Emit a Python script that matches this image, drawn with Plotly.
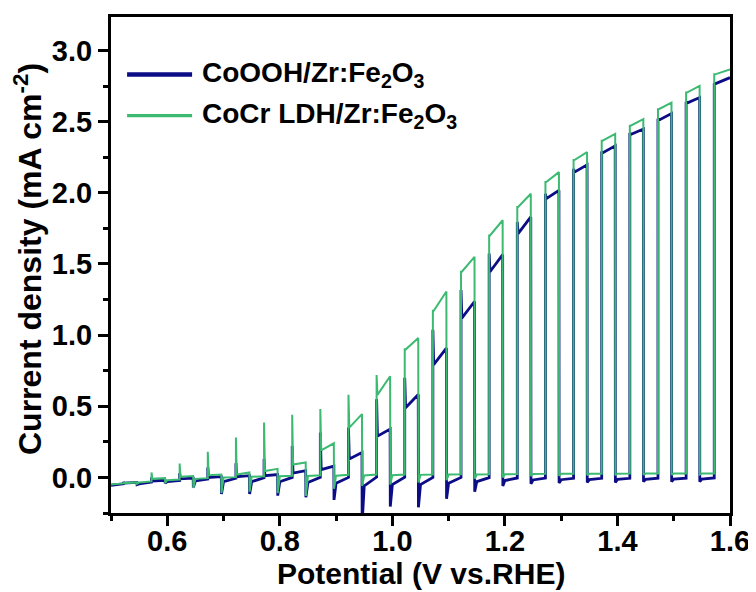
import plotly.graph_objects as go

# ---------------- data ----------------
x_start = 0.5
x_end = 1.6
blue_start = -0.055
green_start = -0.05

# light-on / light-off potentials (V vs. RHE)
x_on = [0.522, 0.572, 0.622, 0.672, 0.722, 0.772, 0.822, 0.872, 0.922, 0.972, 1.022,
        1.072, 1.122, 1.172, 1.222, 1.272, 1.322, 1.372, 1.422, 1.472, 1.522, 1.572]
x_off = [0.546, 0.596, 0.646, 0.696, 0.746, 0.796, 0.846, 0.896, 0.946, 0.996, 1.046,
         1.096, 1.146, 1.196, 1.246, 1.296, 1.346, 1.396, 1.446, 1.496, 1.546, 1.6]

# CoOOH/Zr:Fe2O3 (navy)
blue_dark = [-0.045, -0.033, -0.022, -0.012, -0.006, -0.002, 0.0, 0.0, 0.0, 0.002, 0.002,
             0.0, 0.0, -0.002, -0.004, -0.005, -0.006, -0.006, -0.006, -0.006, -0.005, -0.004]
blue_spike = [-0.032, 0.0, 0.03, 0.07, 0.10, 0.13, 0.22, 0.315, 0.35, 0.55, 0.70,
              1.038, 1.317, 1.573, 1.795, 1.993, 2.168, 2.29, 2.42, 2.52, 2.64, 2.77]
blue_dip = [-0.04, -0.025, -0.01, 0.0, 0.005, 0.012, 0.03, 0.055, 0.13, 0.29, 0.49,
            0.793, 1.119, 1.445, 1.713, 1.958, 2.145, 2.28, 2.41, 2.51, 2.63, 2.765]
blue_end = [-0.035, -0.02, -0.005, 0.005, 0.012, 0.02, 0.047, 0.08, 0.175, 0.34, 0.583,
            0.909, 1.236, 1.565, 1.83, 2.017, 2.196, 2.33, 2.448, 2.557, 2.669, 2.809]
blue_neg = [-0.05, -0.04, -0.07, -0.116, -0.116, -0.128, -0.14, -0.158, -0.32, -0.205, -0.21,
            -0.15, -0.10, -0.06, -0.045, -0.04, -0.035, -0.035, -0.03, -0.03, -0.03]
blue_tail = [-0.045, -0.03, -0.025, -0.03, -0.03, -0.03, -0.035, -0.04, -0.06, -0.05, -0.05,
             -0.04, -0.03, -0.022, -0.018, -0.016, -0.015, -0.014, -0.013, -0.012, -0.012]

# CoCr LDH/Zr:Fe2O3 (green)
green_dark = [-0.042, -0.028, -0.015, -0.005, 0.002, 0.008, 0.012, 0.015, 0.018, 0.02, 0.02,
              0.02, 0.022, 0.022, 0.024, 0.025, 0.025, 0.026, 0.027, 0.028, 0.028, 0.028]
green_spike = [-0.03, 0.035, 0.098, 0.18, 0.28, 0.385, 0.44, 0.48, 0.58, 0.72, 0.90,
               1.171, 1.445, 1.70, 1.90, 2.075, 2.23, 2.366, 2.471, 2.587, 2.704, 2.832]
green_dip = [-0.04, -0.01, 0.005, 0.015, 0.02, 0.045, 0.09, 0.19, 0.35, 0.58, 0.898,
             1.171, 1.445, 1.70, 1.90, 2.075, 2.23, 2.366, 2.471, 2.587, 2.704, 2.832]
green_end = [-0.035, -0.005, 0.01, 0.02, 0.035, 0.06, 0.105, 0.24, 0.445, 0.711, 0.979,
             1.306, 1.55, 1.807, 1.993, 2.145, 2.285, 2.413, 2.517, 2.634, 2.751, 2.867]
green_neg = [-0.045, -0.04, -0.075, -0.11, -0.10, -0.11, -0.13, -0.08, -0.06, -0.05, -0.035,
             -0.02, -0.01, 0.0, 0.01, 0.012, 0.015, 0.015, 0.018, 0.018, 0.02]
green_tail = [-0.035, -0.02, -0.01, 0.0, 0.005, 0.008, 0.01, 0.012, 0.014, 0.016, 0.018,
              0.02, 0.02, 0.022, 0.024, 0.025, 0.025, 0.026, 0.027, 0.028, 0.028]

names = ["CoOOH/Zr:Fe<sub>2</sub>O<sub>3</sub>", "CoCr LDH/Zr:Fe<sub>2</sub>O<sub>3</sub>"]
colors = ["#0b0c86", "#3dba72"]
x_title = "Potential (V vs.RHE)"
y_title = "Current density (mA cm<sup>-2</sup>)"

x_ticks = [0.6, 0.8, 1.0, 1.2, 1.4, 1.6]
y_ticks = [0.0, 0.5, 1.0, 1.5, 2.0, 2.5, 3.0]


def chopped(start, dark, spike, dip, end, neg, tail):
    xs, ys = [x_start], [start]
    n = len(x_on)
    for k in range(n):
        xs += [x_on[k], x_on[k], x_on[k] + 0.0015, x_off[k]]
        ys += [dark[k], spike[k], dip[k], end[k]]
        if k < n - 1:
            xs += [x_off[k] + 0.0003, x_off[k] + 0.004]
            ys += [neg[k], tail[k]]
    return xs, ys


bx, by = chopped(blue_start, blue_dark, blue_spike, blue_dip, blue_end, blue_neg, blue_tail)
gx, gy = chopped(green_start, green_dark, green_spike, green_dip, green_end, green_neg, green_tail)

fig = go.Figure()
fig.add_trace(go.Scatter(x=bx, y=by, mode="lines", name=names[0],
                         line=dict(color=colors[0], width=2.8), showlegend=False))
fig.add_trace(go.Scatter(x=gx, y=gy, mode="lines", name=names[1],
                         line=dict(color=colors[1], width=2.0), showlegend=False))

FONT = "Arial, Liberation Sans, sans-serif"

# manual legend (long line samples as in the reference)
leg_rows = [(0.884, colors[0], 4.5), (0.801, colors[1], 3.2)]
for (yy, col, w), nm in zip(leg_rows, names):
    fig.add_shape(type="line", xref="paper", yref="paper", x0=0.026, x1=0.131,
                  y0=yy, y1=yy, line=dict(color=col, width=w))
    fig.add_annotation(xref="paper", yref="paper", x=0.143, y=yy, text=nm,
                       showarrow=False, xanchor="left", yanchor="middle",
                       font=dict(family=FONT, size=28, color="black", weight="bold"))

# axis titles placed as annotations for exact positioning
fig.add_annotation(xref="paper", yref="paper", x=0.5, y=-0.122, text=x_title,
                   showarrow=False, xanchor="center", yanchor="middle",
                   font=dict(family=FONT, size=30, color="black", weight="bold"))
fig.add_annotation(xref="paper", yref="paper", x=-0.135, y=0.513, text=y_title,
                   showarrow=False, xanchor="center", yanchor="middle", textangle=-90,
                   font=dict(family=FONT, size=32, color="black", weight="bold"))

axis_common = dict(showline=True, linecolor="black", linewidth=3, mirror=True,
                   ticks="outside", ticklen=10, tickwidth=2.5, tickcolor="black",
                   showgrid=False, zeroline=False,
                   tickfont=dict(family=FONT, size=29, color="black", weight="bold"))

fig.update_xaxes(range=[x_start, x_end], tickvals=x_ticks,
                 ticktext=[f"{v:.1f}" for v in x_ticks], ticklabelstandoff=-10,
                 minor=dict(ticks="outside", ticklen=5, tickwidth=2.5, tickcolor="black",
                            dtick=0.1, tick0=0.5, showgrid=False),
                 **axis_common)
fig.update_yaxes(range=[-0.25, 3.235], tickvals=y_ticks,
                 ticktext=[f"{v:.1f}" for v in y_ticks],
                 minor=dict(ticks="outside", ticklen=5, tickwidth=2.5, tickcolor="black",
                            dtick=0.25, tick0=0.0, showgrid=False),
                 **axis_common)

# the page adds an 8px body margin, so the figure is 8px smaller and the
# plot area is shifted accordingly to land on the reference pixels
fig.update_layout(width=748, height=584, plot_bgcolor="white", paper_bgcolor="white",
                  margin=dict(l=103, r=23, t=6, b=79), showlegend=False)

fig.write_html("out.html")
